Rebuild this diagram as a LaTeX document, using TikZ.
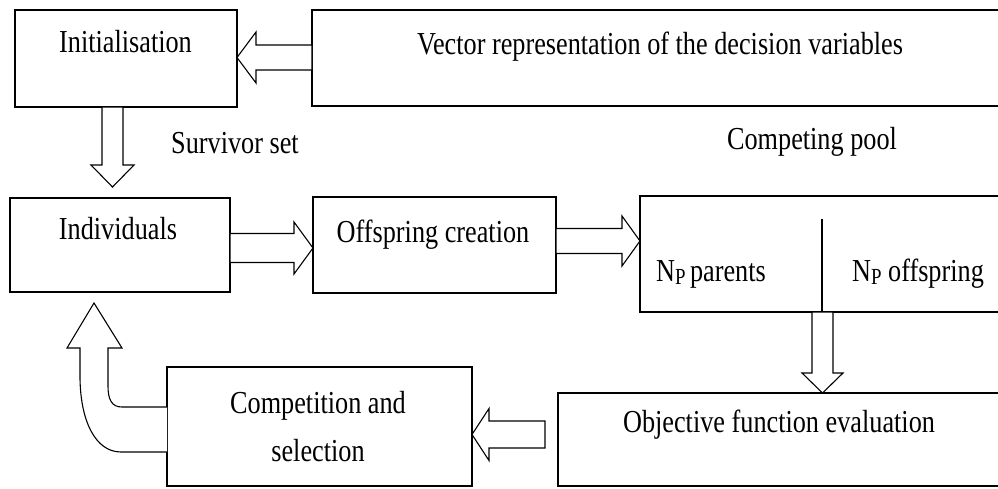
\documentclass[tikz,border=0pt]{standalone}
\usepackage{fontspec}
\setmainfont{Liberation Serif}
\usetikzlibrary{calc,fit}

% narrow serif lettering
\newcommand\narrow[1]{\scalebox{0.82}[1]{#1}}
% lowered small P for N_P
\newcommand\subP{\raisebox{-3pt}{\fontsize{23}{24}\selectfont P}}

% hollow block arrow: tail, tip, shaft half width, head half width, head length
\newcommand\flowarrow[5]{%
  \draw[blk] let \p1=(#1), \p2=(#2),
      \n1={atan2(\y2-\y1,\x2-\x1)}, \n2={veclen(\x2-\x1,\y2-\y1)} in
    [shift={(\p1)}, rotate=\n1]
    (0,-#3) -- ({\n2-#5},-#3) -- ({\n2-#5},-#4) -- (\n2,0)
    -- ({\n2-#5},#4) -- ({\n2-#5},#3) -- (0,#3) -- cycle;}

\tikzset{
  box/.style={draw, line width=1.3pt, inner sep=0pt, outer sep=0pt},
  lbl/.style={inner sep=0pt, anchor=base, font=\fontsize{32}{38}\selectfont},
  blk/.style={draw, line width=1.1pt, fill=white, line join=miter},
}

\begin{document}
\begin{tikzpicture}[x=1pt, y=-1pt]
\useasboundingbox (0,0) rectangle (998,488);
\fill[white] (0,0) rectangle (998,488);

% boxes
\node[box, fit={(15,10) (237,107)}]   (init) {};
\node[box, fit={(312,10) (1004,106)}] (vec)  {};
\node[box, fit={(10,198) (230,292)}]  (indiv) {};
\node[box, fit={(313,197) (556,293)}] (offs) {};
\node[box, fit={(640,196) (1004,312)}] (pool) {};
\node[box, fit={(558,393) (1004,486)}] (obj) {};
\node[box, fit={(167,367) (472,486)}] (comp) {};
\coordinate (divtop) at (822,219);
\draw[line width=1.2pt] (divtop) -- (divtop |- pool.south);

% labels
\node[lbl] (tinit)  at (125.5,52) {\narrow{Initialisation}};
\node[lbl] (tvec)   at (660,54)   {\narrow{Vector representation of the decision variables}};
\node[lbl] (tsurv)  at (235,153)  {\narrow{Survivor set}};
\node[lbl] (tpool)  at (812,149)  {\narrow{Competing pool}};
\node[lbl] (tind)   at (118,239)  {\narrow{Individuals}};
\node[lbl] (toffs)  at (433,242)  {\narrow{Offspring creation}};
\node[lbl] (tpar)   at (711,281)  {\narrow{N\subP\,parents}};
\node[lbl] (toff)   at (918,281)  {\narrow{N\subP{} offspring}};
\node[lbl] (tobj)   at (779,432)  {\narrow{Objective function evaluation}};
\node[lbl] (tcomp1) at (318,413)  {\narrow{Competition and}};
\node[lbl] (tcomp2) at (318,461)  {\narrow{selection}};

% connectors
\coordinate (a2tip) at (112.5,187);
\coordinate (a6tail) at (545,434.5);
\flowarrow{vec.west |- 0,57.5}{init.east |- 0,57.5}{12.5}{25.5}{19}
\flowarrow{init.south -| 112.5,0}{a2tip}{10.5}{21.5}{22}
\flowarrow{indiv.east |- 0,248}{offs.west |- 0,248}{14.5}{26}{19}
\flowarrow{offs.east |- 0,241}{pool.west |- 0,241}{12.5}{25}{18}
\flowarrow{pool.south -| 822.5,0}{obj.north -| 822.5,0}{10.5}{20.5}{20}
\flowarrow{a6tail}{comp.east |- 0,434.5}{13.5}{26}{17}

% bent arrow back to the individuals
\draw[blk] (comp.west |- 0,407) -- (122,407)
  .. controls (112,407) and (108,400) .. (108,386) -- (108,348)
  -- (122,348) -- (94,303) -- (67,348) -- (80,348) -- (80,376)
  .. controls (80,420) and (95,452) .. (121,452) -- (comp.west |- 0,452);
\end{tikzpicture}
\end{document}
